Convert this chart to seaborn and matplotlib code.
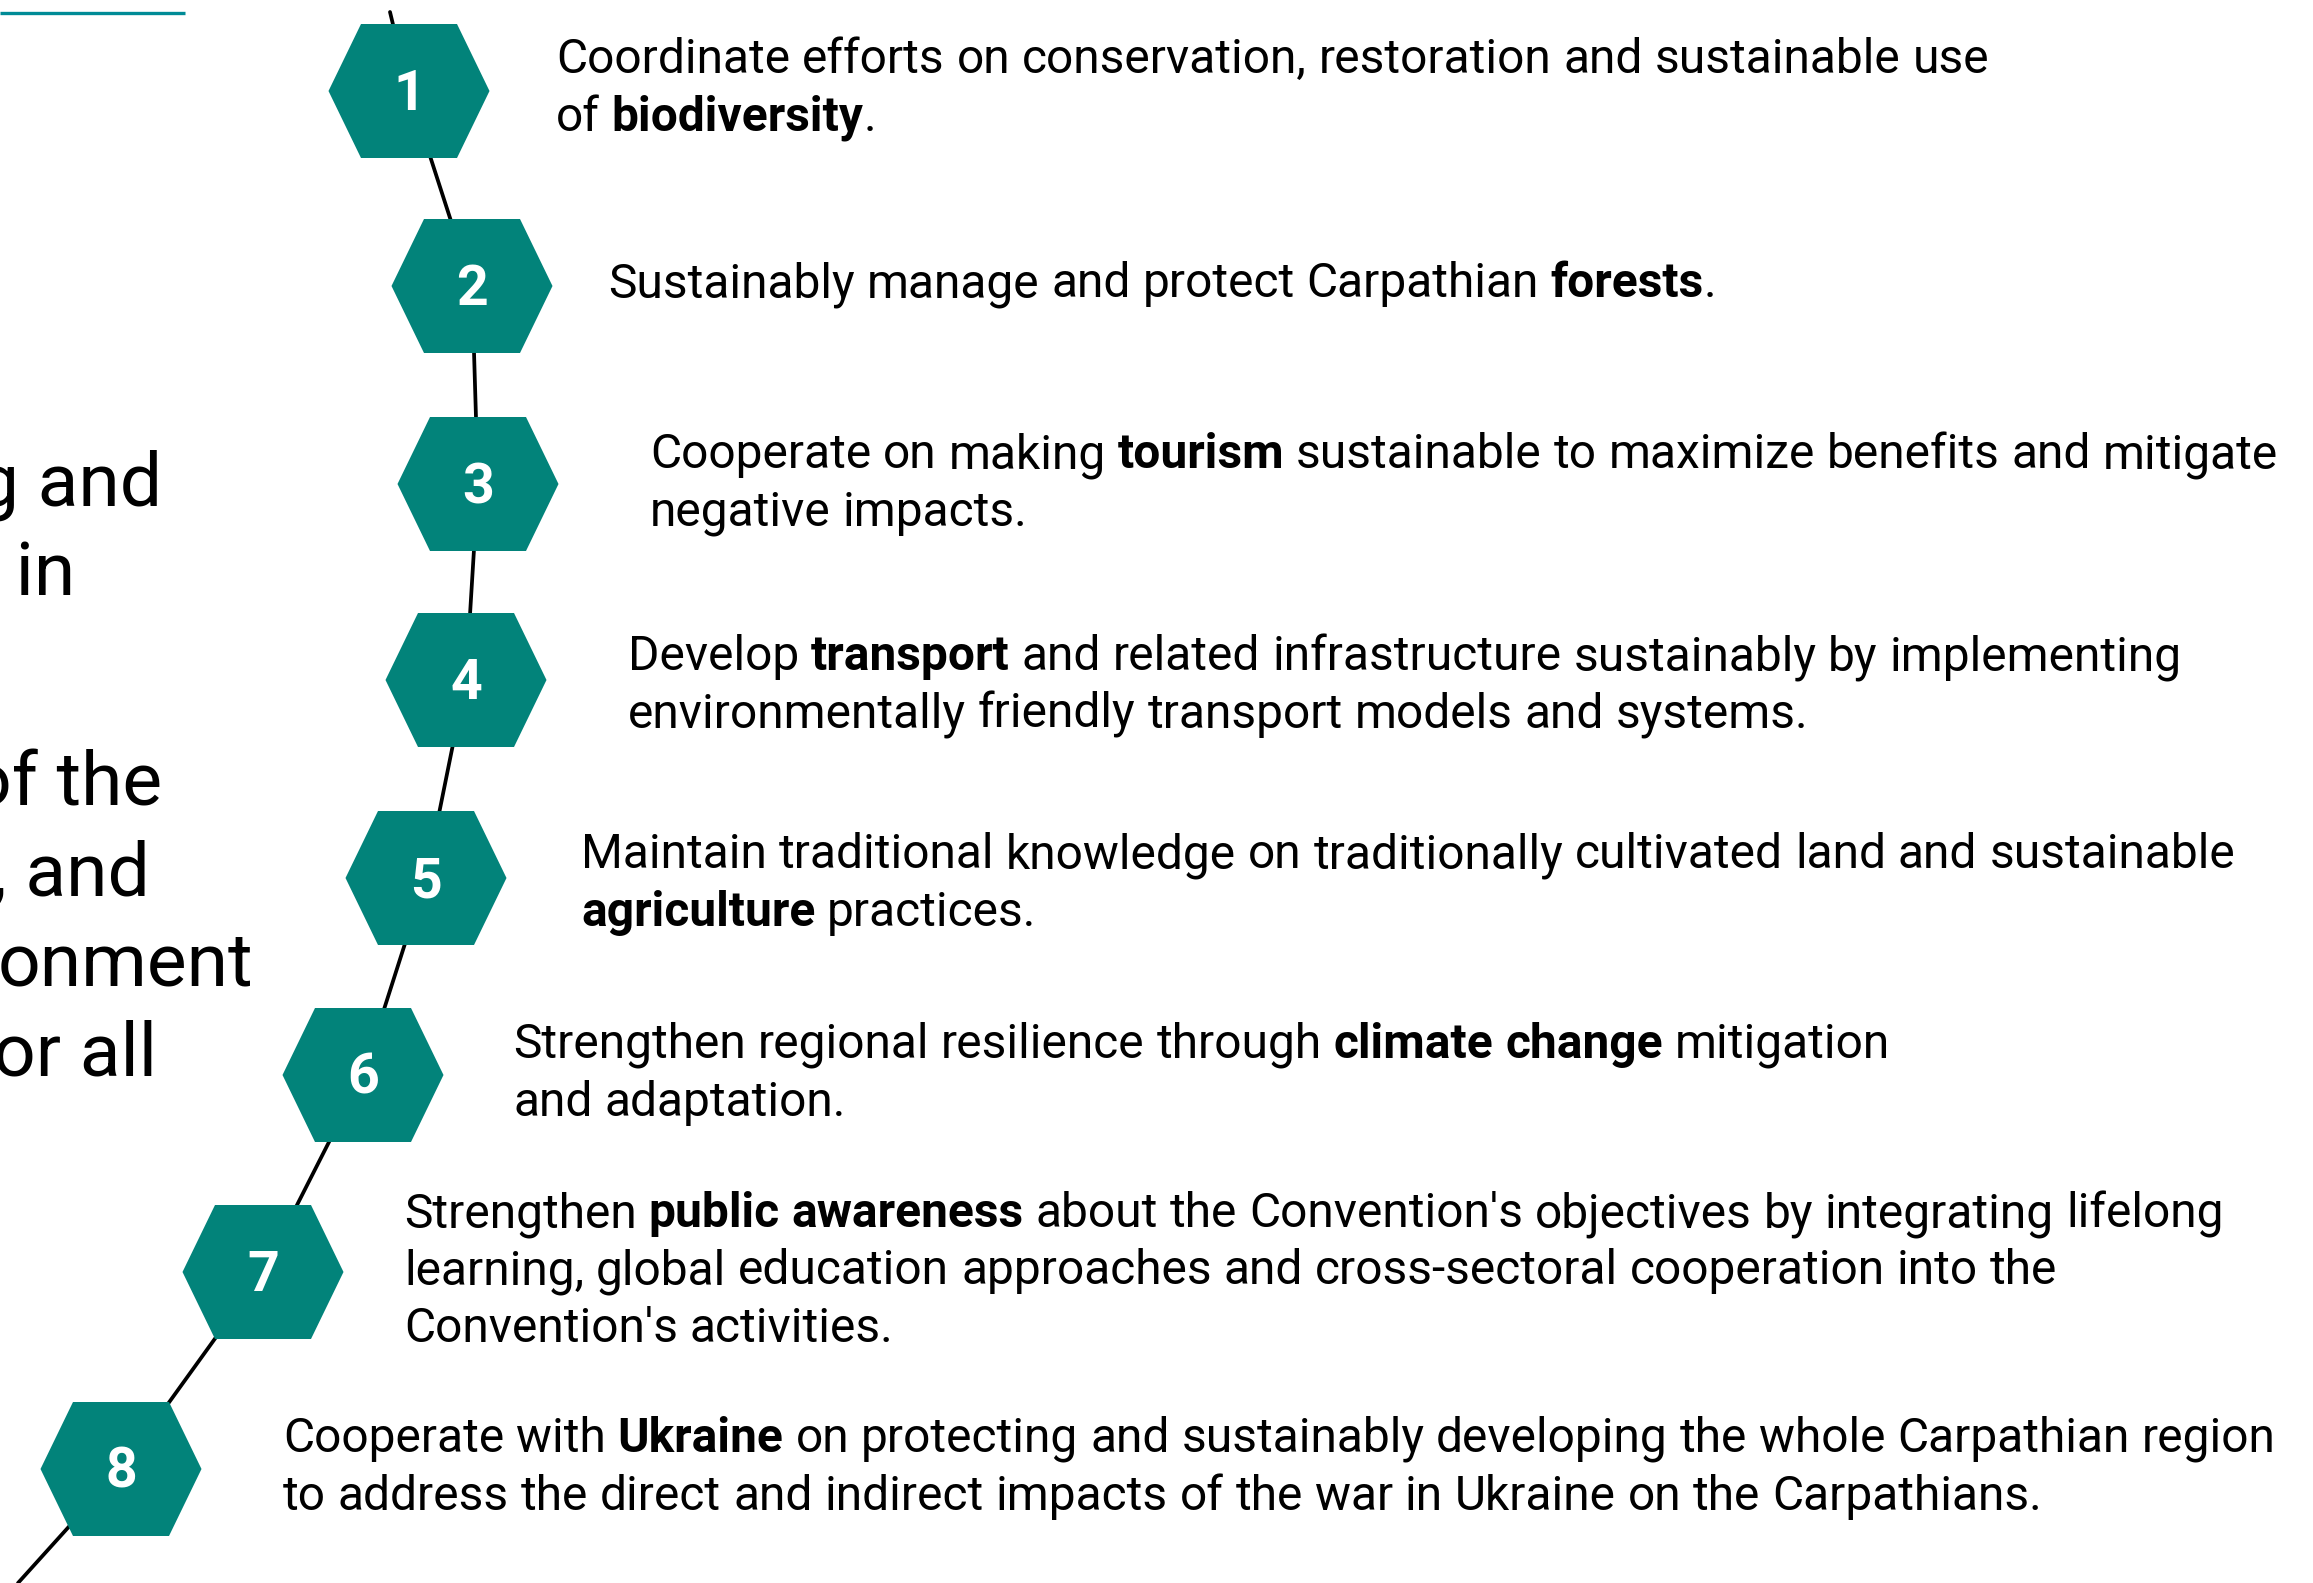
import re
import matplotlib
matplotlib.use("Agg")
import matplotlib.pyplot as plt
import seaborn as sns
from matplotlib.patches import Polygon

# --- data ---
numbers = ["1", "2", "3", "4", "5", "6", "7", "8"]
goals = [
    ["Coordinate efforts on conservation, restoration and sustainable use",
     "of **biodiversity**."],
    ["Sustainably manage and protect Carpathian **forests**."],
    ["Cooperate on making **tourism** sustainable to maximize benefits and mitigate",
     "negative impacts."],
    ["Develop **transport** and related infrastructure sustainably by implementing",
     "environmentally friendly transport models and systems."],
    ["Maintain traditional knowledge on traditionally cultivated land and sustainable",
     "**agriculture** practices."],
    ["Strengthen regional resilience through **climate change** mitigation",
     "and adaptation."],
    ["Strengthen **public awareness** about the Convention's objectives by integrating lifelong",
     "learning, global education approaches and cross-sectoral cooperation into the",
     "Convention's activities."],
    ["Cooperate with **Ukraine** on protecting and sustainably developing the whole Carpathian region",
     "to address the direct and indirect impacts of the war in Ukraine on the Carpathians."],
]
# clipped text from the neighbouring panel on the left
side_text = ["g and", " in", "of the", ", and", "onment", "or all"]

# --- layout (pixels from top-left) ---
W, H = 2313, 1583
hex_x = [409, 472, 478, 466, 426, 363, 263, 121]
hex_y = [91, 286, 484, 680, 878, 1075, 1272, 1469]
text_x = [556, 608, 650, 628, 581, 513, 404, 283]
text_y = [73, 297, 468, 670, 868, 1058, 1227, 1452]
line_gap = 57.5
side_right = [162, 75, 162, 150, 253, 157]
side_base = [505, 595, 805, 895, 985, 1075]

TEAL = "#02837a"
TOP_LINE = "#008b96"

sns.set_theme(style="white")
plt.rcParams["font.family"] = ["Roboto", "DejaVu Sans"]

fig = plt.figure(figsize=(W / 100, H / 100), dpi=100)
ax = fig.add_axes([0, 0, 1, 1])
ax.set_xlim(0, W)
ax.set_ylim(H, 0)
ax.axis("off")

# connecting curve
cx = [390] + hex_x + [18]
cy = [12] + hex_y + [1583]
sns.lineplot(x=cx, y=cy, sort=False, estimator=None, color="black", lw=2.7, ax=ax, zorder=1)

# top teal rule
ax.plot([0, 185], [13, 13], color=TOP_LINE, lw=2.4, solid_capstyle="butt")

# hexagons
hw, hf, hh = 80.5, 48, 67
for x, y, n in zip(hex_x, hex_y, numbers):
    pts = [(x - hw, y), (x - hf, y - hh), (x + hf, y - hh),
           (x + hw, y), (x + hf, y + hh), (x - hf, y + hh)]
    ax.add_patch(Polygon(pts, closed=True, facecolor=TEAL, edgecolor="none", zorder=2))
    ax.text(x, y + 4, n, color="white", fontsize=40, fontweight="bold",
            ha="center", va="center", zorder=3)

renderer = fig.canvas.get_renderer()
FS = 34.5


def width(s, weight):
    t = ax.text(0, 0, s, fontsize=FS, fontweight=weight)
    w = t.get_window_extent(renderer).width
    t.remove()
    return w


space_w = {w: width("n n", w) - width("nn", w) for w in ("normal", "bold")}


def draw_rich(x, y, line):
    cursor = x
    for i, seg in enumerate(line.split("**")):
        weight = "bold" if i % 2 else "normal"
        for tok in re.split(r"( )", seg):
            if tok == "":
                continue
            if tok == " ":
                cursor += space_w[weight]
                continue
            t = ax.text(cursor, y, tok, fontsize=FS, fontweight=weight,
                        color="black", ha="left", va="baseline")
            cursor += t.get_window_extent(renderer).width


for lines, x0, y0 in zip(goals, text_x, text_y):
    for k, line in enumerate(lines):
        draw_rich(x0, y0 + k * line_gap, line)

for s, xr, yb in zip(side_text, side_right, side_base):
    ax.text(xr, yb, s, fontsize=54, color="black", ha="right", va="baseline")

fig.savefig("out.png", dpi=100, facecolor="white")
